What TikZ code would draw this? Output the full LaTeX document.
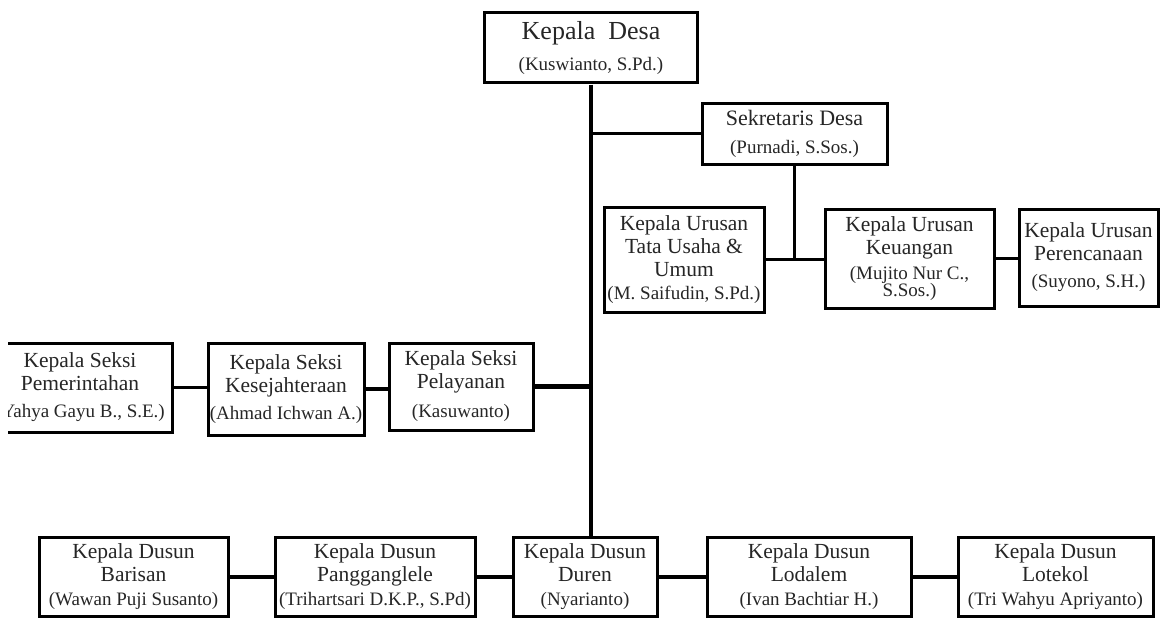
\documentclass[tikz,border=0pt]{standalone}
\usepackage{fontspec}
\setmainfont{Liberation Serif}
\newcommand\pname[1]{{\fontsize{19}{20}\selectfont #1}}
\tikzset{
  box/.style={draw, line width=3pt, inner sep=0pt, align=center, text=black!85,
    font=\fontsize{21.5}{23}\selectfont},
  link/.style={line width=3.5pt},
  thicklink/.style={line width=5.5pt},
}
\begin{document}
\begin{tikzpicture}[x=1pt,y=-1pt]
\useasboundingbox (0,0) rectangle (1162,618);
\fill[white] (0,0) rectangle (1162,618);
\clip (0,0) rectangle (1162,618);
% top
\node[box, minimum width=213pt, minimum height=70pt] (desa) at (591,48)
  {{\fontsize{26}{28}\selectfont Kepala\ \ Desa}\\[8pt]\pname{(Kuswianto, S.Pd.)}};
\node[box, minimum width=185pt, minimum height=61pt] (sek) at (794.5,133.5)
  {{\fontsize{22}{24}\selectfont Sekretaris Desa}\\[5pt]\pname{(Purnadi, S.Sos.)}};
\node[box, minimum width=160pt, minimum height=105pt] (ktu) at (684,259.5)
  {Kepala Urusan\\Tata Usaha \&\\Umum\\[0pt]\pname{(M. Saifudin, S.Pd.)}};
\node[box, minimum width=169pt, minimum height=99pt] (keu) at (909.5,258.5)
  {Kepala Urusan\\Keuangan\\[2pt]\pname{(Mujito Nur C.,}\\[-6pt]\pname{S.Sos.)}};
\node[box, minimum width=139pt, minimum height=97pt] (per) at (1088.5,257.5)
  {Kepala Urusan\\Perencanaan\\[4pt]\pname{(Suyono, S.H.)}};
% seksi row (left box runs past the picture's left edge, as in the reference)
\begin{scope}
\clip (8,0) rectangle (1162,618);
\node[box, minimum width=184pt, minimum height=89pt] (pem) at (80,387.5)
  {Kepala Seksi\\Pemerintahan\\[4pt]\pname{(Yahya Gayu B., S.E.)}};
\end{scope}
\node[box, minimum width=156pt, minimum height=92pt] (kes) at (286,389)
  {Kepala Seksi\\Kesejahteraan\\[4pt]\pname{(Ahmad Ichwan A.)}};
\node[box, minimum width=144pt, minimum height=87pt] (pel) at (461,386.5)
  {Kepala Seksi\\Pelayanan\\[6pt]\pname{(Kasuwanto)}};
% dusun row
\node[box, minimum width=189pt, minimum height=79pt] (bar) at (133.5,577)
  {Kepala Dusun\\Barisan\\[1pt]\pname{(Wawan Puji Susanto)}};
\node[box, minimum width=200pt, minimum height=79pt] (pan) at (375,577)
  {Kepala Dusun\\Pangganglele\\[1pt]\pname{(Trihartsari D.K.P., S.Pd)}};
\node[box, minimum width=144pt, minimum height=79pt] (dur) at (585,577)
  {Kepala Dusun\\Duren\\[1pt]\pname{(Nyarianto)}};
\node[box, minimum width=204pt, minimum height=79pt] (lod) at (809,577)
  {Kepala Dusun\\Lodalem\\[1pt]\pname{(Ivan Bachtiar H.)}};
\node[box, minimum width=195pt, minimum height=79pt] (lot) at (1055.5,577)
  {Kepala Dusun\\Lotekol\\[1pt]\pname{(Tri Wahyu Apriyanto)}};
% connectors
\draw[link] (desa.south) -- (desa.south |- dur.north);
\draw[link] (sek.west) -- (sek.west -| desa.south);
\draw[link] (sek.south) -- (sek.south |- ktu.east);
\draw[link] (ktu.east) -- (ktu.east -| keu.west);
\draw[link] (keu.east) -- (keu.east -| per.west);
\draw[thicklink] (pel.east) -- (pel.east -| desa.south);
\draw[link] (kes.east) -- (kes.east -| pel.west);
\draw[link] (pem.east) -- (pem.east -| kes.west);
\draw[link] (bar) -- (pan);
\draw[link] (pan) -- (dur);
\draw[link] (dur) -- (lod);
\draw[link] (lod) -- (lot);
\end{tikzpicture}
\end{document}
